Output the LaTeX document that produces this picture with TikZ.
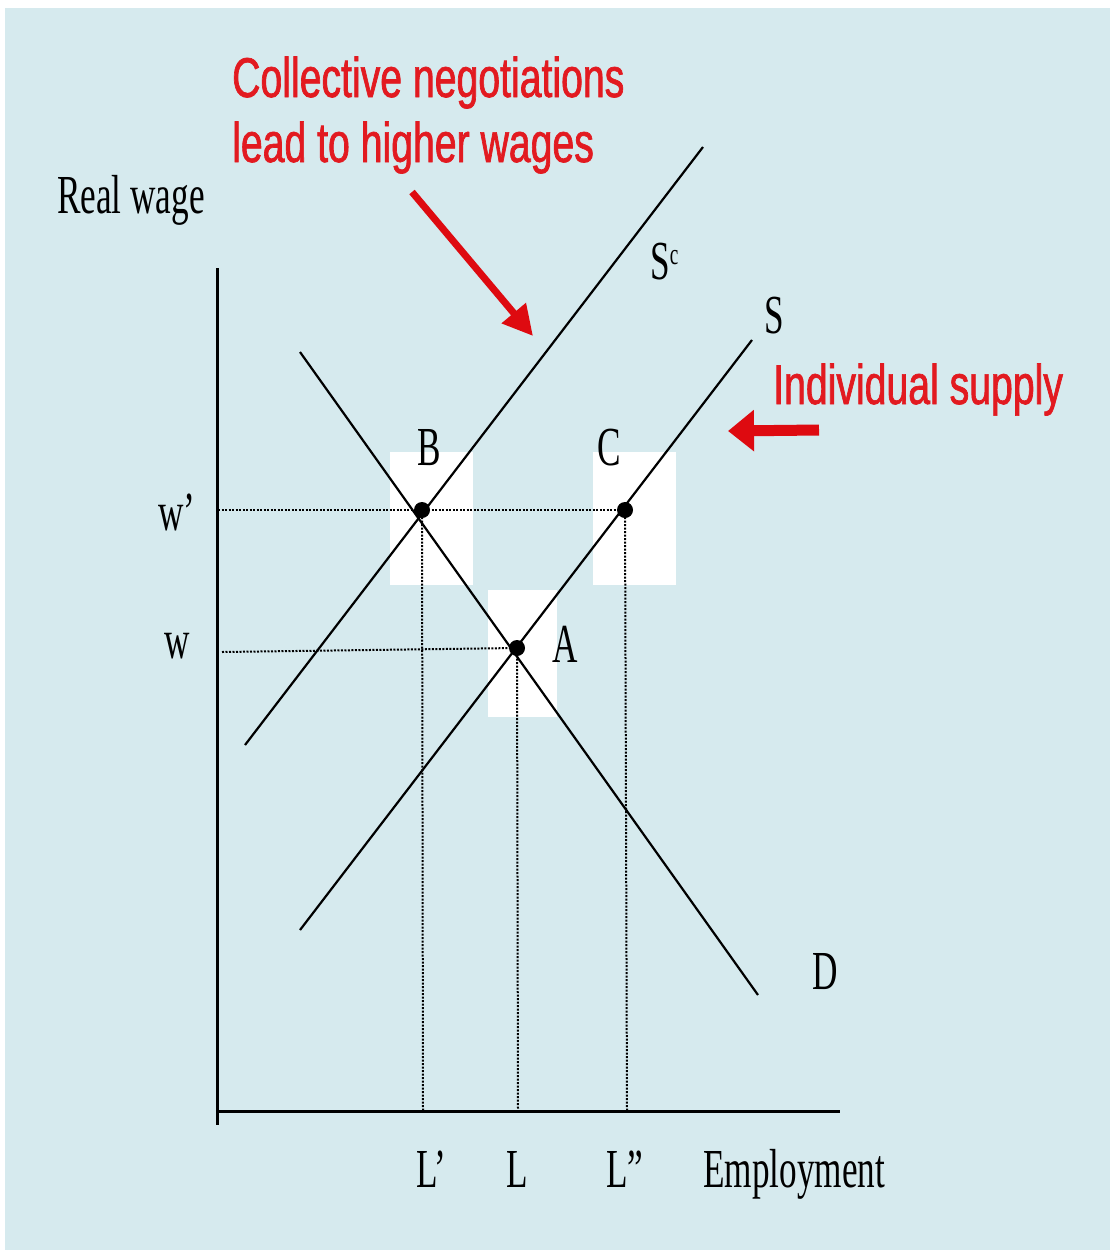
\documentclass[tikz,border=0pt]{standalone}
\usepackage{fontspec}
\setmainfont{Liberation Serif}[FakeStretch=0.64]
\newfontfamily\redfont{Liberation Sans}[FakeStretch=0.70,FakeBold=1.2]
\usetikzlibrary{arrows.meta}
\definecolor{bg}{RGB}{214,234,238}
\definecolor{myred}{RGB}{226,26,32}
\definecolor{arrred}{RGB}{222,10,16}
\begin{document}
\begin{tikzpicture}[x=1pt,y=-1pt,
  curve/.style={line width=2.2pt,black},
  axisline/.style={line width=3pt,black},
  guide/.style={line width=2pt,black,dash pattern=on 2pt off 1.5pt},
  dot/.style={circle,fill=black,inner sep=0pt,minimum size=16pt},
  lbl/.style={font=\fontsize{55}{60}\selectfont,inner sep=0pt,anchor=base},
  redlbl/.style={font=\redfont\fontsize{56}{62}\selectfont,text=myred,inner sep=0pt,anchor=base west},
  redarrow/.style={draw=arrred,line width=7pt}
]
\useasboundingbox (0,0) rectangle (1110,1250);
\fill[white] (0,0) rectangle (1110,1250);
\fill[bg] (5,8) rectangle (1110,1250);
% white highlight boxes
\fill[white] (390,452) rectangle (473,585);
\fill[white] (593,452) rectangle (676,585);
\fill[white] (488,590) rectangle (557,717);

% coordinates
\coordinate (ytop) at (217,268);
\coordinate (ybot) at (217,1125);
\coordinate (xleft) at (217,1111);
\coordinate (xright) at (840,1111);
\coordinate (sc1) at (245,745);
\coordinate (sc2) at (703,147);
\coordinate (s1) at (300,930);
\coordinate (s2) at (752,340);
\coordinate (d1) at (300,352);
\coordinate (d2) at (758,995);
\coordinate (B) at (422,510);
\coordinate (C) at (625,510);
\coordinate (A) at (517,648);
\coordinate (wpax) at (218,510);
\coordinate (wax) at (222,652);
\coordinate (Lpax) at (423,1111);
\coordinate (Lax) at (518,1111);
\coordinate (Lppax) at (627,1111);

% guides
\draw[guide] (wpax) -- (C);
\draw[guide] (wax) -- (A);
\draw[guide] (B) -- (Lpax);
\draw[guide] (A) -- (Lax);
\draw[guide] (C) -- (Lppax);

% axes
\draw[axisline] (ytop) -- (ybot);
\draw[axisline] (xleft) -- (xright);

% curves
\draw[curve] (sc1) -- (sc2);
\draw[curve] (s1) -- (s2);
\draw[curve] (d1) -- (d2);

% points
\node[dot] (pB) at (B) {};
\node[dot] (pC) at (C) {};
\node[dot] (pA) at (A) {};

% labels
\node[lbl,anchor=base west] (realwage) at (57,213) {Real wage};
\node[lbl] (wp) at (177,530) {w’};
\node[lbl] (w) at (177,658) {w};
\node[lbl] (lB) at (429,465) {B};
\node[lbl] (lC) at (609,465) {C};
\node[lbl] (lA) at (565,662) {A};
\node[lbl,anchor=base west] (lSc) at (650,279) {S\raisebox{15pt}{\fontsize{30}{32}\selectfont c}};
\node[lbl] (lS) at (774,333) {S};
\node[lbl] (lD) at (825,989) {D};
\node[lbl] (lLp) at (431,1187) {L’};
\node[lbl] (lL) at (517,1187) {L};
\node[lbl] (lLpp) at (625,1187) {L”};
\node[lbl,anchor=base west] (employment) at (703,1187) {Employment};

% red annotations
\node[redlbl] (neg1) at (232,97) {Collective negotiations};
\node[redlbl] (neg2) at (232,162) {lead to higher wages};
\node[redlbl] (indiv) at (773,404) {Individual supply};

\coordinate (a1s) at (412,192);
\coordinate (a1e) at (533,336);
\coordinate (a2s) at (819,430);
\coordinate (a2e) at (728,431);
\draw[redarrow,-{Triangle[length=30pt,width=30pt]}] (a1s) -- (a1e);
\draw[redarrow,line width=11pt,-{Triangle[length=26pt,width=40pt]}] (a2s) -- (a2e);
\end{tikzpicture}
\end{document}
